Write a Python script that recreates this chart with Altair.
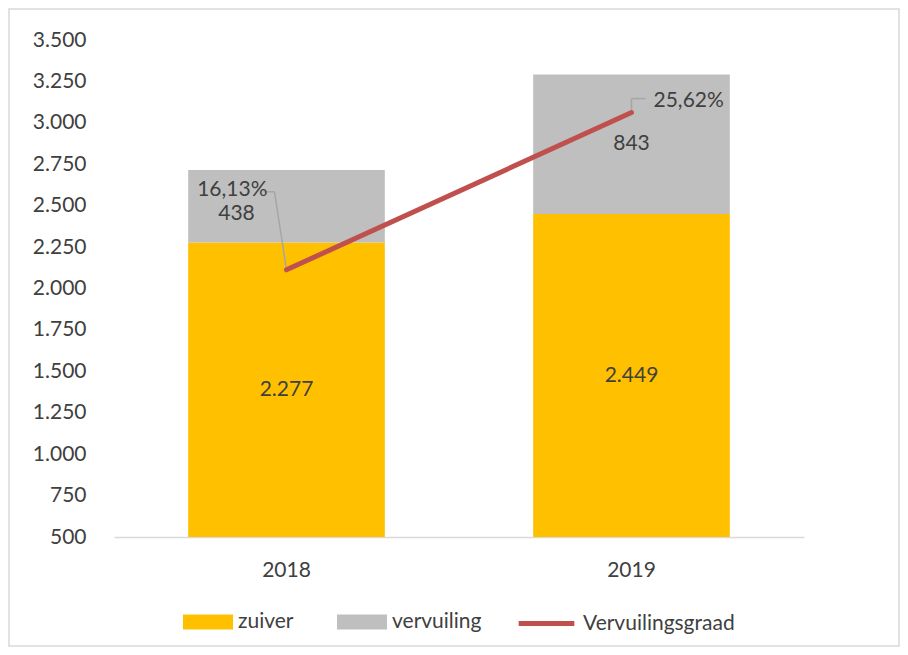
import altair as alt
import pandas as pd

# ---- data ----
years = ["2018", "2019"]
zuiver = [2277, 2449]
vervuiling = [438, 843]
graad = [0.1613, 0.2562]
left_ticks = [500, 750, 1000, 1250, 1500, 1750, 2000, 2250, 2500, 2750, 3000, 3250, 3500]
right_ticks = [0.0, 0.05, 0.10, 0.15, 0.20, 0.25, 0.30]
series_bars = ["zuiver", "vervuiling"]
series_line = ["Vervuilingsgraad"]

AXIS_MIN, AXIS_MAX = 500, 3500
FONT = "Lato"
TXT = "#404040"
C_Z, C_V, C_L = "#FFC000", "#BFBFBF", "#C0504D"
FS = 21


def nl_int(v):
    return f"{v:,}".replace(",", ".")


def nl_pct(p):
    return f"{p * 100:.2f}%".replace(".", ",")


bars = pd.DataFrame({
    "year": years * 2,
    "type": ["zuiver"] * 2 + ["vervuiling"] * 2,
    "value": zuiver + vervuiling,
    "order": [0, 0, 1, 1],
})
bars["label"] = [nl_int(v) for v in bars["value"]]
bars["labelpos"] = [(AXIS_MIN + z) / 2 for z in zuiver] + [z + v / 2 for z, v in zip(zuiver, vervuiling)]

line = pd.DataFrame({"year": years, "graad": graad, "series": series_line * 2})
line["label"] = [nl_pct(p) for p in graad]

W, H = 690, 497

x_enc = alt.X("year:N", title=None,
              scale=alt.Scale(paddingInner=0.43, paddingOuter=0.215),
              axis=alt.Axis(labelFontSize=FS, labelColor=TXT, labelFont=FONT, labelPadding=22,
                            ticks=False, domainColor="#D9D9D9", domainWidth=1.5, labelAngle=0, grid=False))

yl_scale = alt.Scale(domain=[AXIS_MIN, AXIS_MAX], nice=False, zero=False)

bar = alt.Chart(bars).mark_bar(clip=True).encode(
    x=x_enc,
    y=alt.Y("value:Q", stack="zero", scale=yl_scale, title=None,
            axis=alt.Axis(values=left_ticks, grid=False, ticks=False, domain=False,
                          labelFontSize=FS, labelColor=TXT, labelFont=FONT, labelPadding=28,
                          labelExpr="replace(format(datum.value, ',.0f'), ',', '.')")),
    color=alt.Color("type:N", scale=alt.Scale(domain=series_bars, range=[C_Z, C_V]),
                    legend=alt.Legend(title=None, orient="none", legendX=69, legendY=557,
                                      direction="horizontal", symbolType="M-1,-0.3L1,-0.3L1,0.3L-1,0.3Z",
                                      symbolSize=2500, symbolStrokeWidth=0, symbolOpacity=1,
                                      labelFontSize=FS, labelColor=TXT, labelFont=FONT,
                                      labelOffset=5, columnPadding=43)),
    order=alt.Order("order:Q", sort="ascending"),
)

bar_text_main = alt.Chart(bars).transform_filter(
    "!(datum.year == '2018' && datum.type == 'vervuiling')"
).mark_text(fontSize=FS, color=TXT, font=FONT, baseline="middle").encode(
    x=alt.X("year:N"), y=alt.Y("labelpos:Q", scale=yl_scale), text="label:N")

bar_text_moved = alt.Chart(bars).transform_filter(
    "datum.year == '2018' && datum.type == 'vervuiling'"
).mark_text(fontSize=FS, color=TXT, font=FONT, baseline="middle", dx=-50, dy=8).encode(
    x=alt.X("year:N"), y=alt.Y("labelpos:Q", scale=yl_scale), text="label:N")

left = alt.layer(bar, bar_text_main, bar_text_moved)

yr_scale = alt.Scale(domain=[0, 0.30], nice=False)

ln = alt.Chart(line).mark_line(strokeWidth=5, strokeCap="round").encode(
    x=alt.X("year:N"),
    y=alt.Y("graad:Q", scale=yr_scale, title=None,
            axis=alt.Axis(orient="right", values=right_ticks, grid=False, ticks=False, domain=False,
                          labelFontSize=FS, labelColor=TXT, labelFont=FONT, labelPadding=25,
                          labelExpr="replace(format(datum.value, '.2%'), '.', ',')")),
    stroke=alt.Stroke("series:N", scale=alt.Scale(domain=series_line, range=[C_L]),
                      legend=alt.Legend(title=None, orient="none", legendX=402, legendY=553,
                                        symbolType="stroke", symbolSize=3100, symbolStrokeWidth=5,
                                        labelFontSize=FS, labelColor=TXT, labelFont=FONT, labelOffset=6)),
)

LEAD = "#A6A6A6"
def lead(year, **kw):
    return alt.Chart(line).transform_filter(alt.datum.year == year).mark_rule(
        color=LEAD, strokeWidth=1.5, **kw).encode(
        x=alt.X("year:N"), x2="year:N",
        y=alt.Y("graad:Q", scale=yr_scale, axis=None), y2="graad:Q")

leaders = [
    lead("2018", x2Offset=-12, y2Offset=-78),
    lead("2018", xOffset=-12, yOffset=-78, x2Offset=-23, y2Offset=-78),
    lead("2019", x2Offset=0, y2Offset=-14),
    lead("2019", xOffset=0, yOffset=-14, x2Offset=14, y2Offset=-14),
]

lbl_2018 = alt.Chart(line).transform_filter(alt.datum.year == "2018").mark_text(
    fontSize=FS, color=TXT, font=FONT, align="right", baseline="middle", dx=-19, dy=-80).encode(
    x=alt.X("year:N"), y=alt.Y("graad:Q", scale=yr_scale, axis=None), text="label:N")
lbl_2019 = alt.Chart(line).transform_filter(alt.datum.year == "2019").mark_text(
    fontSize=FS, color=TXT, font=FONT, align="left", baseline="middle", dx=22, dy=-12).encode(
    x=alt.X("year:N"), y=alt.Y("graad:Q", scale=yr_scale, axis=None), text="label:N")

right = alt.layer(*leaders, ln, lbl_2018, lbl_2019)

border = alt.Chart(pd.DataFrame({"k": [0]})).mark_rect(
    fill=None, stroke="#D9D9D9", strokeWidth=1.5).encode(
    x=alt.value(-105), x2=alt.value(W + 95), y=alt.value(-31), y2=alt.value(H + 109))

chart = alt.layer(left, right, border).resolve_scale(y="independent").properties(
    width=W, height=H,
    background="white",
    padding={"left": 106, "top": 32, "right": 96, "bottom": 110},
    autosize=alt.AutoSizeParams(type="none"),
).configure_view(strokeWidth=0, stroke="transparent")

chart.save("out.html", embed_options={"renderer": "svg", "actions": False})
